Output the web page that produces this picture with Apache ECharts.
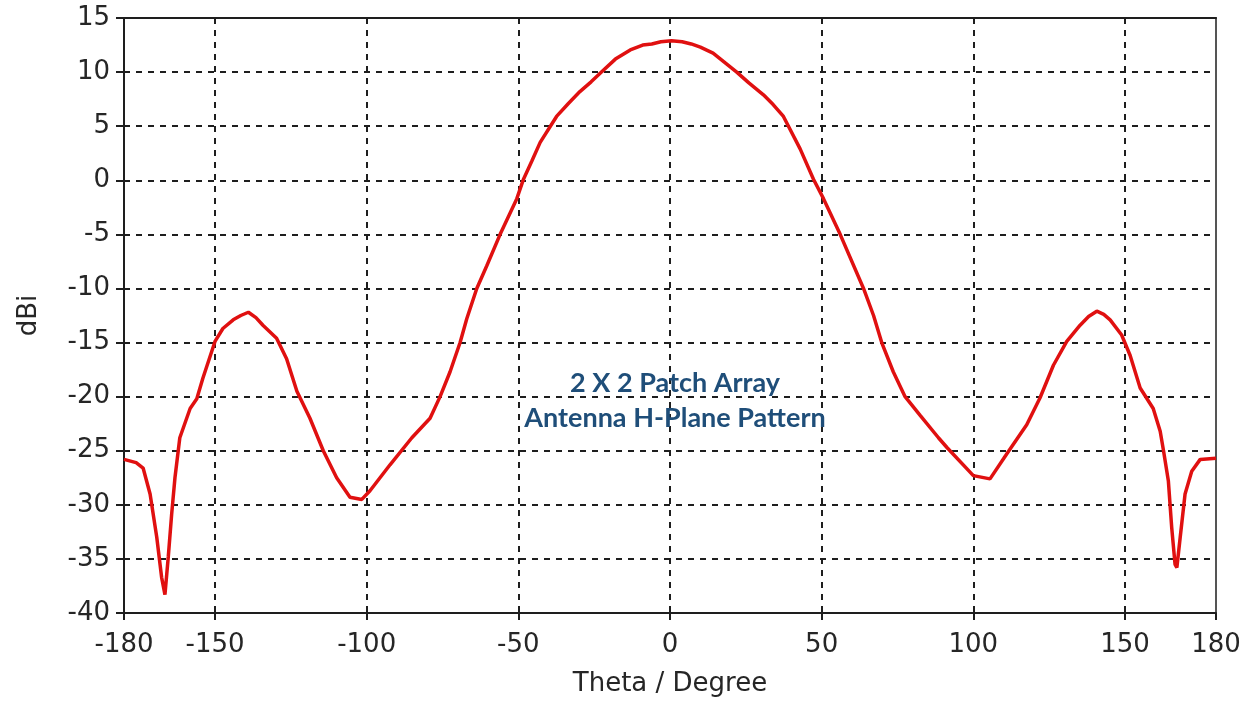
<!DOCTYPE html>
<html>
<head>
<meta charset="utf-8">
<title>2 X 2 Patch Array Antenna H-Plane Pattern</title>
<script src="https://cdn.jsdelivr.net/npm/echarts@6/dist/echarts.min.js"></script>
<style>
  html, body { margin: 0; padding: 0; background: #ffffff; }
  #chart { width: 1250px; height: 702px; }
</style>
</head>
<body>
<div id="chart"></div>
<script>
// H-plane cut of the 2x2 patch array: angle (deg) and realised gain (dBi)
var theta = [
  -180, -176, -173.7, -171.4, -169.2, -167.6, -166.5, -165.4, -164.3, -163.2,
  -161.6, -158.2, -156, -154, -150, -147.4, -144, -141.5, -139, -136.5,
  -134.2, -129.7, -126.4, -123, -118.7, -114.3, -109.9, -105.5, -101.6, -98.9,
  -92.3, -85.1, -79.1, -75.8, -72.5, -69.2, -67, -63.7, -60.4, -56,
  -50.5, -48.3, -45.5, -42.8, -37.4, -33.5, -29.7, -26, -22.6, -18,
  -13.1, -9, -6, -3, 0.5, 4, 7, 10, 14.2, 18,
  22, 26, 30.8, 34, 37.4, 42.9, 47.3, 50.6, 56.1, 63.8,
  67.1, 69.8, 73.6, 77.5, 82.4, 88.5, 91.3, 100, 105.5, 111,
  117.6, 122, 126.4, 130.8, 135.2, 138, 140.7, 143, 145.1, 148.9,
  151.7, 155, 159.3, 161.6, 162.7, 164.3, 165.4, 166.5, 167.1, 168.2,
  169.8, 172, 174.8, 180
];
var gain = [
  -25.8, -26.1, -26.6, -29.0, -33.0, -36.7, -38.3, -34.8, -30.9, -27.5,
  -23.8, -21.1, -20.2, -18.3, -14.9, -13.7, -12.9, -12.5, -12.2, -12.7,
  -13.4, -14.6, -16.5, -19.5, -22.0, -25.0, -27.5, -29.3, -29.5, -28.7,
  -26.3, -23.8, -22.0, -20.0, -17.7, -15.0, -12.8, -10.0, -7.9, -5.0,
  -1.7, 0.1, 1.8, 3.5, 5.9, 7.1, 8.2, 9.1, 10.0, 11.2,
  12.05, 12.5, 12.6, 12.8, 12.9, 12.8, 12.6, 12.3, 11.75, 10.9,
  10.0, 9.0, 7.9, 7.0, 5.9, 2.9, 0.1, -1.7, -5.0, -10.0,
  -12.5, -15.0, -17.7, -20.0, -21.7, -23.8, -24.7, -27.3, -27.6, -25.3,
  -22.6, -20.1, -17.1, -14.9, -13.4, -12.6, -12.1, -12.4, -12.9, -14.3,
  -16.2, -19.2, -21.1, -23.2, -25.0, -27.8, -32.1, -35.5, -35.8, -33.0,
  -29.0, -26.9, -25.8, -25.7
];

// Axis ranges, tick positions and captions
var thetaRange = [-180, 180];
var thetaTicks = [-180, -150, -100, -50, 0, 50, 100, 150, 180];
var gainRange = [-40, 15];
var xName = 'Theta / Degree';
var yName = 'dBi';
var noteLines = ['2 X 2 Patch Array', 'Antenna H-Plane Pattern'];

var points = theta.map(function (t, i) { return [t, gain[i]]; });

var chart = echarts.init(document.getElementById('chart'), null, { renderer: 'canvas' });

var labelFont = { fontFamily: 'DejaVu Sans', fontSize: 26, color: '#262626' };
var dashed = { color: '#1e1e1e', type: [6, 6], width: 2 };

chart.setOption({
  animation: false,
  backgroundColor: '#ffffff',
  grid: { left: 124, right: 34, top: 18, bottom: 86, show: false },
  xAxis: [{
    type: 'value',
    min: thetaRange[0],
    max: thetaRange[1],
    name: xName,
    nameLocation: 'middle',
    nameGap: 58,
    nameTextStyle: labelFont,
    axisLine: { show: true, onZero: false, lineStyle: { color: '#1e1e1e', width: 2 } },
    axisTick: { show: true, length: 7, customValues: thetaTicks, lineStyle: { color: '#1e1e1e', width: 2 } },
    axisLabel: Object.assign({ margin: 19, customValues: thetaTicks }, labelFont),
    splitLine: { show: true, customValues: thetaTicks, lineStyle: dashed }
  }, {
    type: 'value',
    position: 'top',
    min: thetaRange[0],
    max: thetaRange[1],
    axisLine: { show: true, onZero: false, lineStyle: { color: '#1e1e1e', width: 2 } },
    axisTick: { show: false },
    axisLabel: { show: false },
    splitLine: { show: false }
  }],
  yAxis: [{
    type: 'value',
    min: gainRange[0],
    max: gainRange[1],
    interval: 5,
    name: yName,
    nameLocation: 'middle',
    nameGap: 82,
    nameTextStyle: labelFont,
    axisLine: { show: true, onZero: false, lineStyle: { color: '#1e1e1e', width: 2 } },
    axisTick: { show: true, length: 8, lineStyle: { color: '#1e1e1e', width: 2 } },
    axisLabel: Object.assign({ margin: 14 }, labelFont),
    splitLine: { show: true, lineStyle: dashed }
  }, {
    type: 'value',
    position: 'right',
    min: gainRange[0],
    max: gainRange[1],
    axisLine: { show: true, onZero: false, lineStyle: { color: '#555555', width: 2 } },
    axisTick: { show: false },
    axisLabel: { show: false },
    splitLine: { show: false }
  }],
  graphic: [{
    type: 'text',
    x: 675,
    y: 401,
    z: 100,
    style: {
      text: noteLines.join('\n'),
      fill: '#1f4e79',
      font: 'bold 27px Lato',
      lineHeight: 35,
      align: 'center',
      verticalAlign: 'middle'
    }
  }],
  series: [{
    type: 'line',
    data: points,
    showSymbol: false,
    smooth: false,
    lineStyle: { color: '#e01010', width: 3.5 },
    z: 10
  }]
});
</script>
</body>
</html>
